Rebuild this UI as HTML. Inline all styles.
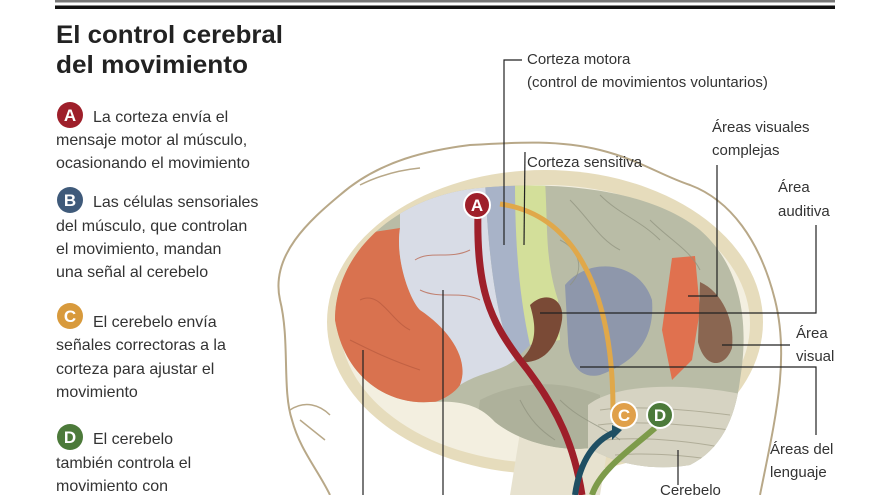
<!DOCTYPE html>
<html><head><meta charset="utf-8"><style>
html,body{margin:0;padding:0;background:#fff;}
body{width:880px;height:495px;overflow:hidden;position:relative;font-family:"Liberation Sans",sans-serif;color:#333;}
svg{position:absolute;left:0;top:0;}
.t{font-family:"Liberation Sans",sans-serif;font-size:16px;fill:#333;}
.h{font-family:"Liberation Sans",sans-serif;font-size:25px;font-weight:bold;fill:#222;}
.b{font-family:"Liberation Sans",sans-serif;font-size:17px;font-weight:bold;fill:#fff;text-anchor:middle;}
</style></head><body>
<svg width="880" height="495" viewBox="0 0 880 495">
<defs>
<clipPath id="br"><path d="M335 320 C335 250 400 195 480 188 C560 180 650 190 700 230 C740 265 750 320 740 380 C735 420 720 450 690 465 C650 472 610 462 590 448 C560 452 520 442 495 422 C480 405 460 400 430 402 C390 405 345 380 335 320 Z"/></clipPath>
</defs>
<rect x="55" y="0" width="780" height="2.5" fill="#777"/>
<rect x="55" y="5.5" width="780" height="3.5" fill="#111"/>
<text class="h" x="56" y="43" textLength="227" lengthAdjust="spacingAndGlyphs">El control cerebral</text>
<text class="h" x="56" y="73" textLength="192" lengthAdjust="spacingAndGlyphs">del movimiento</text>

<circle cx="70" cy="115" r="13" fill="#9e1f2a"/><text class="b" x="70" y="121">A</text>
<text class="t" x="93" y="122">La corteza envía el</text>
<text class="t" x="56" y="145">mensaje motor al músculo,</text>
<text class="t" x="56" y="168">ocasionando el movimiento</text>
<circle cx="70" cy="200" r="13" fill="#3f5a7a"/><text class="b" x="70" y="206">B</text>
<text class="t" x="93" y="207">Las células sensoriales</text>
<text class="t" x="56" y="231">del músculo, que controlan</text>
<text class="t" x="56" y="254">el movimiento, mandan</text>
<text class="t" x="56" y="277">una señal al cerebelo</text>
<circle cx="70" cy="316" r="13" fill="#d89a3c"/><text class="b" x="70" y="322">C</text>
<text class="t" x="93" y="327">El cerebelo envía</text>
<text class="t" x="56" y="350">señales correctoras a la</text>
<text class="t" x="56" y="374">corteza para ajustar el</text>
<text class="t" x="56" y="397">movimiento</text>
<circle cx="70" cy="437" r="13" fill="#4c7a3a"/><text class="b" x="70" y="443">D</text>
<text class="t" x="93" y="444">El cerebelo</text>
<text class="t" x="56" y="468">también controla el</text>
<text class="t" x="56" y="491">movimiento con</text>

<!-- head outline -->
<path d="M330 495 C318 470 300 450 292 420 C282 390 290 340 280 300 C270 255 310 220 340 195 C380 160 430 150 470 145 C520 142 560 140 600 150 C640 160 660 175 690 185 C730 200 760 240 775 300 C790 360 775 420 760 495" fill="none" stroke="#b8a888" stroke-width="2"/>
<path d="M360 185 C380 175 400 170 420 168" fill="none" stroke="#b8a888" stroke-width="1.5"/>
<path d="M290 410 C305 400 320 405 330 415 M300 420 L325 440" fill="none" stroke="#b8a888" stroke-width="1.5"/>
<!-- skull band -->
<ellipse cx="545" cy="322" rx="218" ry="152" fill="#e6dcbc"/>
<ellipse cx="545" cy="324" rx="205" ry="139" fill="#f3efe0"/>
<!-- brainstem -->
<path d="M510 495 L522 420 L612 420 L600 495 Z" fill="#e7e2cf"/>
<!-- brain -->
<path d="M335 320 C335 250 400 195 480 188 C560 180 650 190 700 230 C740 265 750 320 740 380 C735 420 720 450 690 465 C650 472 610 462 590 448 C560 452 520 442 495 422 C480 405 460 400 430 402 C390 405 345 380 335 320 Z" fill="#b9bca6"/>
<g clip-path="url(#br)">
<!-- frontal orange -->
<path d="M320 240 L400 228 C395 260 410 300 420 310 C450 330 470 360 460 385 C450 400 420 410 390 410 L320 410 Z" fill="#d9724f"/>
<!-- premotor light blue -->
<path d="M400 228 L400 180 L485 180 C488 250 495 320 515 360 C500 372 480 372 460 385 C470 360 450 330 420 310 C410 300 395 260 400 228 Z" fill="#d8dce6"/>
<!-- motor blue -->
<path d="M485 180 L515 180 C515 250 520 300 530 345 L515 360 C495 320 488 250 485 180 Z" fill="#a8b3c8"/>
<!-- sensory green -->
<path d="M515 180 L545 180 C548 230 545 260 558 300 L560 340 L530 345 C520 300 515 250 515 180 Z" fill="#d3df9a"/>
<!-- lower temporal/gray -->
<path d="M480 400 C520 380 560 380 600 395 L600 470 L470 470 Z" fill="#aeb19b"/>
<!-- temporal blue -->
<path d="M565 285 C590 255 640 262 652 300 C655 340 635 362 600 375 C578 380 568 360 568 340 Z" fill="#8e97ab"/>
<!-- brown spot -->
<path d="M530 305 C545 290 565 298 562 320 C558 345 545 365 518 362 C540 345 535 322 530 305 Z" fill="#7a4a36"/>
<!-- visual orange -->
<path d="M672 258 L695 256 L700 310 L692 360 L672 380 L662 330 Z" fill="#e0714f"/>
<path d="M700 282 C722 292 735 320 732 348 C725 368 705 370 698 342 Z" fill="#8a6651"/>
<!-- cerebellum -->
<path d="M588 405 C620 380 700 385 745 395 L745 470 L588 470 Z" fill="#d6d3c2"/>
<path d="M600 410 C640 405 690 410 730 415 M598 425 C640 420 690 425 730 430 M605 440 C640 437 680 440 720 447 M615 455 C650 452 690 456 715 460" stroke="#b0ad98" fill="none"/>
<!-- gyri -->
<g stroke="#8f927e" stroke-width="1" fill="none" opacity="0.7">
<path d="M570 200 C590 220 600 240 620 250 M600 195 C620 215 640 220 660 240 M560 240 C580 250 585 270 570 285 M650 220 C670 240 690 250 700 270 M560 400 C580 420 600 425 620 440 M520 400 C530 420 540 430 555 440"/>
<path d="M360 300 C380 290 390 320 410 330 M350 340 C370 350 390 360 420 370 M415 260 C430 250 450 260 470 250 M420 290 C440 300 460 290 480 300" stroke="#b65a3e"/>
</g>
</g>
<!-- tracts -->
<path d="M613 410 C613 300 580 215 500 204" fill="none" stroke="#e0a84a" stroke-width="5"/>
<path d="M478 210 C476 290 490 320 520 360 C560 410 575 450 582 495" fill="none" stroke="#9e1f2a" stroke-width="7"/>
<path d="M575 495 C580 460 595 440 615 432" fill="none" stroke="#1f4f63" stroke-width="6"/>
<path d="M612 425 L622 430 L612 440 Z" fill="#1f4f63"/>
<path d="M592 495 C600 470 630 450 655 428" fill="none" stroke="#7d9b4a" stroke-width="6"/>
<!-- badges -->
<circle cx="477" cy="205" r="13" fill="#9e1f2a" stroke="#fff" stroke-width="2"/><text class="b" x="477" y="211">A</text>
<circle cx="624" cy="415" r="13" fill="#e0a04a" stroke="#fff" stroke-width="2"/><text class="b" x="624" y="421">C</text>
<circle cx="660" cy="415" r="13" fill="#4c7a3a" stroke="#fff" stroke-width="2"/><text class="b" x="660" y="421">D</text>

<!-- leaders -->
<g stroke="#222" stroke-width="1.2" fill="none">
<path d="M522 60 L504 60 L504 245"/>
<path d="M525 152 L524 245"/>
<path d="M717 165 L717 296 L688 296"/>
<path d="M816 225 L816 313 L540 313"/>
<path d="M790 345 L722 345"/>
<path d="M816 435 L816 367 L580 367"/>
<path d="M363 495 L363 350"/>
<path d="M443 495 L443 290"/>
<path d="M678 485 L678 450"/>
</g>
<text class="t" x="527" y="64" style="font-size:15px">Corteza motora</text>
<text class="t" x="527" y="87" style="font-size:15px">(control de movimientos voluntarios)</text>
<text class="t" x="527" y="167" style="font-size:15px">Corteza sensitiva</text>
<text class="t" x="712" y="132" style="font-size:15px">Áreas visuales</text>
<text class="t" x="712" y="155" style="font-size:15px">complejas</text>
<text class="t" x="778" y="192" style="font-size:15px">Área</text>
<text class="t" x="778" y="216" style="font-size:15px">auditiva</text>
<text class="t" x="796" y="338" style="font-size:15px">Área</text>
<text class="t" x="796" y="361" style="font-size:15px">visual</text>
<text class="t" x="770" y="454" style="font-size:15px">Áreas del</text>
<text class="t" x="770" y="477" style="font-size:15px">lenguaje</text>
<text class="t" x="660" y="495" style="font-size:15px">Cerebelo</text>
</svg>
</body></html>
